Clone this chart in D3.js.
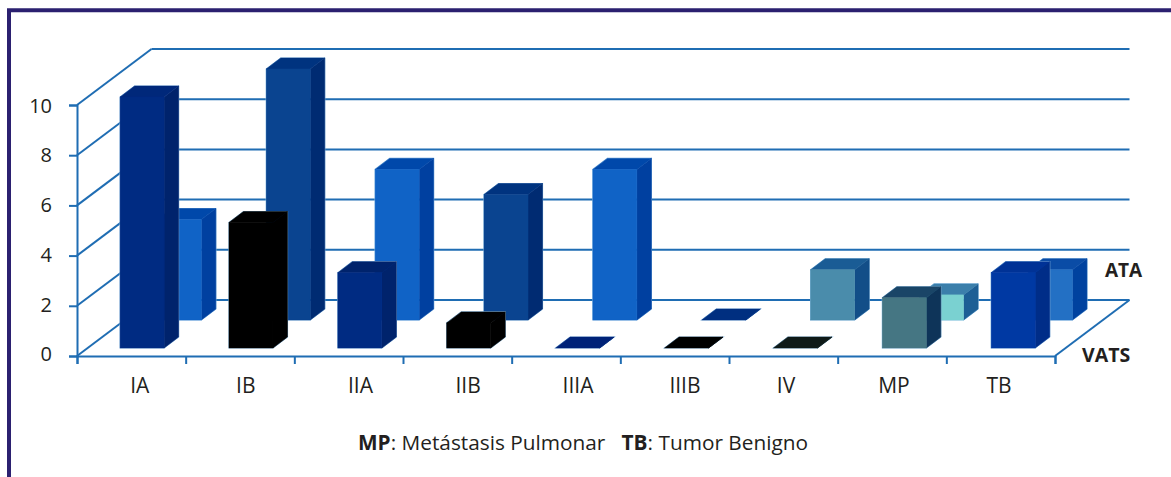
<!DOCTYPE html>
<html lang="en">
<head>
    <meta charset="utf-8">
    <title>VATS / ATA</title>
    <script src="https://d3js.org/d3.v7.min.js"></script>
    <style>
        html, body { margin: 0; padding: 0; background: #fff; overflow: hidden; }
        svg { display: block; }
        text { font-family: "Open Sans", sans-serif; fill: #231f20; }
    </style>
</head>
<body>
<svg width="1171" height="477"></svg>
<script>
    var categories = ["IA", "IB", "IIA", "IIB", "IIIA", "IIIB", "IV", "MP", "TB"];
    var vats = [10, 5, 3, 1, 0, 0, 0, 2, 3];
    var ata = [4, 10, 6, 5, 6, 0, 2, 1, 2];
    var yTicks = [0, 2, 4, 6, 8, 10];

    // colores de cada barra: frente, lado, tapa
    var vatsFront = ["#002b82", "#000000", "#002b82", "#000000", "#002b82", "#000000", "#0f1a18", "#457683", "#0039a3"];
    var vatsSide = ["#00236c", "#000000", "#00236c", "#000000", "#00236c", "#000000", "#0f1a18", "#0e3459", "#002d88"];
    var vatsTop = ["#00287a", "#000000", "#00236c", "#000000", "#002278", "#000000", "#0f1a18", "#1a4567", "#003296"];
    var ataFront = ["#1063c6", "#0a4490", "#1063c6", "#0a4490", "#1063c6", "#002f80", "#4a8cab", "#7ad1d1", "#2370c4"];
    var ataSide = ["#0040a0", "#002b72", "#0040a0", "#002b72", "#0040a0", "#002f80", "#124e88", "#1d5f95", "#00429f"];
    var ataTop = ["#0048aa", "#00337f", "#0048aa", "#00337f", "#0048aa", "#002f80", "#1a5c95", "#3b7fab", "#0a4ca6"];

    // ajuste horizontal de las etiquetas respecto al centro de cada categoria
    var labelNudge = [8.4, 5.8, 11.8, 10.7, 12, 10.3, 2.7, 2, -1.7];

    var lineColor = "#1f6db3";
    var depth = {x: 74.5, y: -56};      // profundidad del piso
    var barDepth = {x: 14.5, y: -11};   // profundidad de cada barra
    var barW = 44;

    var svg = d3.select("svg");

    // marco
    svg.append("path")
        .attr("d", "M9,477V10.3H1171")
        .attr("fill", "none")
        .attr("stroke", "#2b2070")
        .attr("stroke-width", 4);

    var x = d3.scaleBand().domain(categories).range([77, 1057]);
    var y = d3.scaleLinear().domain([0, 10]).range([356, 105]);
    var row = d3.scalePoint().domain(["VATS", "ATA"]).range([0.143, 0.643]);

    // pared del fondo
    svg.append("g").selectAll("line")
        .data(yTicks)
        .enter()
        .append("line")
        .attr("x1", 77 + depth.x)
        .attr("x2", 1055 + depth.x)
        .attr("y1", function(d){ return y(d) + depth.y; })
        .attr("y2", function(d){ return y(d) + depth.y; })
        .attr("stroke", lineColor)
        .attr("stroke-width", 2);

    // pared lateral
    svg.append("g").selectAll("line")
        .data(yTicks)
        .enter()
        .append("line")
        .attr("x1", 77)
        .attr("x2", 77 + depth.x)
        .attr("y1", function(d){ return y(d); })
        .attr("y2", function(d){ return y(d) + depth.y; })
        .attr("stroke", lineColor)
        .attr("stroke-width", 2);

    // borde derecho del piso
    svg.append("line")
        .attr("x1", 1055).attr("y1", y(0))
        .attr("x2", 1055 + depth.x).attr("y2", y(0) + depth.y)
        .attr("stroke", lineColor)
        .attr("stroke-width", 2);

    function drawRow(name, values, front, sideC, topC){
        var dx = row(name) * depth.x;
        var base = y(0) + row(name) * depth.y;
        var g = svg.append("g").attr("class", "row-" + name);
        var bars = g.selectAll("g")
            .data(values)
            .enter()
            .append("g");
        var left = function(d, i){ return x(categories[i]) + (x.bandwidth() - barW) / 2 + dx; };
        var h = function(d){ return y(0) - y(d); };

        bars.append("path")  // halo claro alrededor de la barra
            .attr("d", function(d, i){
                var l = left(d, i), t = base - h(d);
                return "M" + l + "," + base + "V" + t + "l" + barDepth.x + "," + barDepth.y +
                    "h" + barW + "V" + (base + barDepth.y) + "l" + (-barDepth.x) + "," + (-barDepth.y) + "Z";
            })
            .attr("fill", "none")
            .attr("stroke", "#8fc0e6")
            .attr("stroke-width", 1.2);
        bars.append("path")  // lado
            .attr("d", function(d, i){
                var l = left(d, i) + barW, t = base - h(d);
                return "M" + l + "," + base + "L" + l + "," + t +
                    "l" + barDepth.x + "," + barDepth.y + "L" + (l + barDepth.x) + "," + (base + barDepth.y) + "Z";
            })
            .attr("fill", function(d, i){ return sideC[i]; })
            .attr("stroke", function(d, i){ return sideC[i]; })
            .attr("stroke-width", 0.5);
        bars.append("path")  // tapa
            .attr("d", function(d, i){
                var l = left(d, i), t = base - h(d);
                return "M" + l + "," + t + "l" + barDepth.x + "," + barDepth.y +
                    "h" + barW + "l" + (-barDepth.x) + "," + (-barDepth.y) + "Z";
            })
            .attr("fill", function(d, i){ return topC[i]; })
            .attr("stroke", function(d, i){ return topC[i]; })
            .attr("stroke-width", 0.5);
        bars.append("rect")  // frente
            .attr("x", left)
            .attr("y", function(d){ return base - h(d); })
            .attr("width", barW)
            .attr("height", h)
            .attr("fill", function(d, i){ return front[i]; })
            .attr("stroke", function(d, i){ return front[i]; })
            .attr("stroke-width", 0.5);
    }
    drawRow("ATA", ata, ataFront, ataSide, ataTop);
    drawRow("VATS", vats, vatsFront, vatsSide, vatsTop);

    // eje y
    var yAxis = d3.axisLeft(y).tickValues(yTicks).tickSize(8).tickPadding(17).tickFormat(d3.format("d"));
    var gy = svg.append("g").attr("transform", "translate(77,0)").call(yAxis);
    gy.attr("font-family", null).attr("font-size", null);
    gy.selectAll("path, line").attr("stroke", lineColor).attr("stroke-width", 2);
    gy.selectAll("text")
        .attr("font-size", 20)
        .attr("dy", "0.36em")
        .attr("y", function(d){ return -2.5 * (1 - d / 10); });

    // eje x: marcas entre categorias
    var xTicks = d3.scaleLinear().domain([0, categories.length]).range([77, 1055]);
    var gx = svg.append("g").attr("transform", "translate(0,356)")
        .call(d3.axisBottom(xTicks).ticks(categories.length).tickSize(8).tickFormat(""));
    gx.selectAll("path, line").attr("stroke", lineColor).attr("stroke-width", 2);

    // etiquetas de categoria
    var labelX = d3.scaleBand().domain(categories).range([77, 1055]);
    var gl = svg.append("g").attr("transform", "translate(0,356)")
        .call(d3.axisBottom(labelX).tickSize(0).tickPadding(22));
    gl.select("path").remove();
    gl.attr("font-family", null).attr("font-size", null);
    gl.selectAll("text")
        .attr("font-size", 21)
        .attr("x", function(d, i){ return labelNudge[i]; });

    svg.append("text").attr("x", 1105).attr("y", 277).attr("font-size", 19).attr("font-weight", 700).text("ATA");
    svg.append("text").attr("x", 1082).attr("y", 362).attr("font-size", 19.5).attr("font-weight", 700).text("VATS");

    var note = svg.append("text").attr("x", 583).attr("y", 450).attr("text-anchor", "middle").attr("font-size", 20.8);
    note.append("tspan").attr("font-weight", 700).text("MP");
    note.append("tspan").text(": Metástasis Pulmonar\u00a0\u00a0\u00a0");
    note.append("tspan").attr("font-weight", 700).text("TB");
    note.append("tspan").text(": Tumor Benigno");
</script>
</body>
</html>
